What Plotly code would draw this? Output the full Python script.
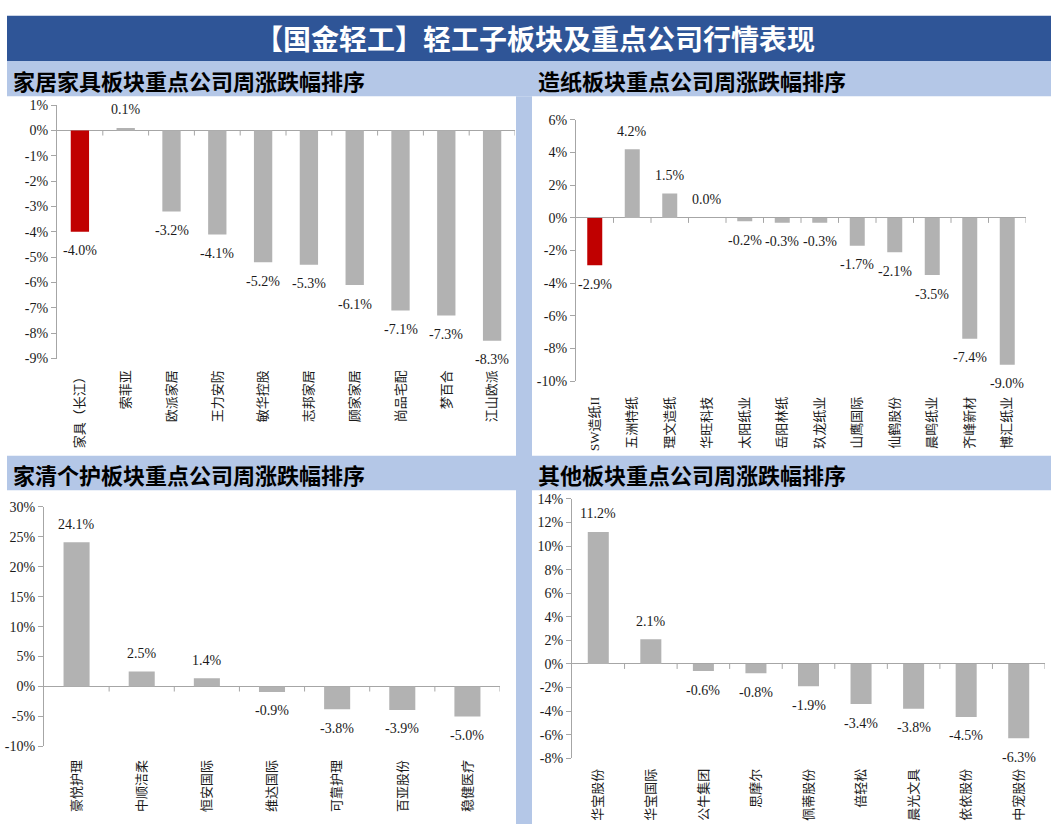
import plotly.graph_objects as go

W, H = 1051, 832

# ---------------- data ----------------
title_text = "【国金轻工】轻工子板块及重点公司行情表现"

furn_title = "家居家具板块重点公司周涨跌幅排序"
furn_names = ["家具（长江）", "索菲亚", "欧派家居", "王力安防", "敏华控股",
              "志邦家居", "顾家家居", "尚品宅配", "梦百合", "江山欧派"]
furn_vals = [-4.0, 0.1, -3.2, -4.1, -5.2, -5.3, -6.1, -7.1, -7.3, -8.3]

paper_title = "造纸板块重点公司周涨跌幅排序"
paper_names = ["SW造纸II", "五洲特纸", "理文造纸", "华旺科技", "太阳纸业", "岳阳林纸",
               "玖龙纸业", "山鹰国际", "仙鹤股份", "晨鸣纸业", "齐峰新材", "博汇纸业"]
paper_vals = [-2.9, 4.2, 1.5, 0.0, -0.2, -0.3, -0.3, -1.7, -2.1, -3.5, -7.4, -9.0]

care_title = "家清个护板块重点公司周涨跌幅排序"
care_names = ["豪悦护理", "中顺洁柔", "恒安国际", "维达国际", "可靠护理", "百亚股份", "稳健医疗"]
care_vals = [24.1, 2.5, 1.4, -0.9, -3.8, -3.9, -5.0]

other_title = "其他板块重点公司周涨跌幅排序"
other_names = ["华宝股份", "华宝国际", "公牛集团", "思摩尔", "佩蒂股份",
               "倍轻松", "晨光文具", "依依股份", "中宠股份"]
other_vals = [11.2, 2.1, -0.6, -0.8, -1.9, -3.4, -3.8, -4.5, -6.3]

# ---------------- style ----------------
DARK_BLUE = "#2F5597"
LIGHT_BLUE = "#B4C7E7"
RED = "#C00000"
GREY = "#B2B2B2"
AXIS = "#A6A6A6"
TXT = "#1a1a1a"
NUM_FONT = "Liberation Serif, Times New Roman, serif"
CJK_FONT = "Liberation Serif, Noto Sans CJK SC, serif"
BOLD_CJK = "Noto Sans CJK SC"


def px_x(p):
    return p / W


def px_y(p):
    return 1 - p / H


panels = [
    # names, vals, highlight-first, (ymin, ymax, dtick), (x0, x1, ytop, ybot), label standoff
    (furn_names, furn_vals, True, (-9, 1, 1), (57, 515, 100, 358), 8),
    (paper_names, paper_vals, True, (-10, 6, 2), (576, 1026, 115, 381), 12),
    (care_names, care_vals, False, (-10, 30, 5), (44, 500, 509, 753), 10),
    (other_names, other_vals, False, (-8, 14, 2), (572, 1045, 501, 765), 7),
]

fig = go.Figure()
shapes = []
annotations = []
layout = {}

for i, (names, vals, hl, (ymin, ymax, dt), (x0, x1, yt, yb), stand) in enumerate(panels, start=1):
    xa = "x" if i == 1 else f"x{i}"
    ya = "y" if i == 1 else f"y{i}"
    colors = [RED if (hl and k == 0) else GREY for k in range(len(vals))]
    fig.add_trace(go.Bar(
        x=names, y=vals, marker=dict(color=colors, line=dict(width=0)),
        width=0.4, xaxis=xa, yaxis=ya, showlegend=False, hoverinfo="x+y",
    ))
    tickvals = list(range(ymin, ymax + 1, dt))
    ticktext = [f"{v}%" for v in tickvals]
    layout["xaxis" if i == 1 else f"xaxis{i}"] = dict(
        domain=[px_x(x0), px_x(x1)], anchor=ya, type="category",
        categoryorder="array", categoryarray=names,
        range=[-0.5, len(names) - 0.5],
        showline=False, ticks="", showgrid=False, zeroline=False,
        tickangle=-90, ticklabelstandoff=stand,
        tickfont=dict(family=CJK_FONT, size=13, color=TXT),
    )
    layout["yaxis" if i == 1 else f"yaxis{i}"] = dict(
        domain=[px_y(yb), px_y(yt)], anchor=xa, range=[ymin, ymax],
        tickvals=tickvals, ticktext=ticktext,
        showline=True, linecolor=AXIS, linewidth=1,
        ticks="outside", ticklen=5, tickcolor=AXIS, tickwidth=1,
        showgrid=False, zeroline=True, zerolinecolor=AXIS, zerolinewidth=1,
        tickfont=dict(family=NUM_FONT, size=14, color=TXT),
    )
    # small tick marks on the zero line at category boundaries
    for b in range(len(names)):
        shapes.append(dict(
            type="line", xref=xa, yref=ya, x0=b + 0.5, x1=b + 0.5,
            ysizemode="pixel", yanchor=0, y0=0, y1=-5,
            line=dict(color=AXIS, width=1), layer="above",
        ))
    # value labels
    for n, v in zip(names, vals):
        annotations.append(dict(
            xref=xa, yref=ya, x=n, y=v, text=f"{v:.1f}%", showarrow=False,
            yshift=18 if v >= 0 else -19, yanchor="middle", xanchor="center",
            font=dict(family=NUM_FONT, size=14, color=TXT),
        ))

# background frame
shapes += [
    dict(type="rect", xref="paper", yref="paper", x0=px_x(7), x1=px_x(W),
         y0=px_y(55), y1=px_y(9), fillcolor=DARK_BLUE, line=dict(width=0), layer="below"),
    dict(type="rect", xref="paper", yref="paper", x0=px_x(7), x1=px_x(W),
         y0=px_y(91), y1=px_y(55), fillcolor=LIGHT_BLUE, line=dict(width=0), layer="below"),
    dict(type="rect", xref="paper", yref="paper", x0=px_x(7), x1=px_x(W),
         y0=px_y(492), y1=px_y(457), fillcolor=LIGHT_BLUE, line=dict(width=0), layer="below"),
    dict(type="rect", xref="paper", yref="paper", x0=px_x(516), x1=px_x(532),
         y0=0, y1=px_y(91), fillcolor=LIGHT_BLUE, line=dict(width=0), layer="below"),
]

annotations.append(dict(
    xref="paper", yref="paper", x=px_x(535), y=px_y(32), text=f"<b>{title_text}</b>",
    showarrow=False, xanchor="center", yanchor="middle",
    font=dict(family=BOLD_CJK, size=28, color="white"),
))
for txt, x, y in [(furn_title, 11, 74), (paper_title, 536, 74),
                  (care_title, 11, 476), (other_title, 536, 476)]:
    annotations.append(dict(
        xref="paper", yref="paper", x=px_x(x), y=px_y(y), text=f"<b>{txt}</b>",
        showarrow=False, xanchor="left", yanchor="middle",
        font=dict(family=BOLD_CJK, size=22, color="black"),
    ))

fig.update_layout(
    width=W, height=H, margin=dict(l=0, r=0, t=0, b=0),
    paper_bgcolor="white", plot_bgcolor="rgba(0,0,0,0)",
    shapes=shapes, annotations=annotations, bargap=0.6,
    **layout,
)

fig.write_html("out.html")
